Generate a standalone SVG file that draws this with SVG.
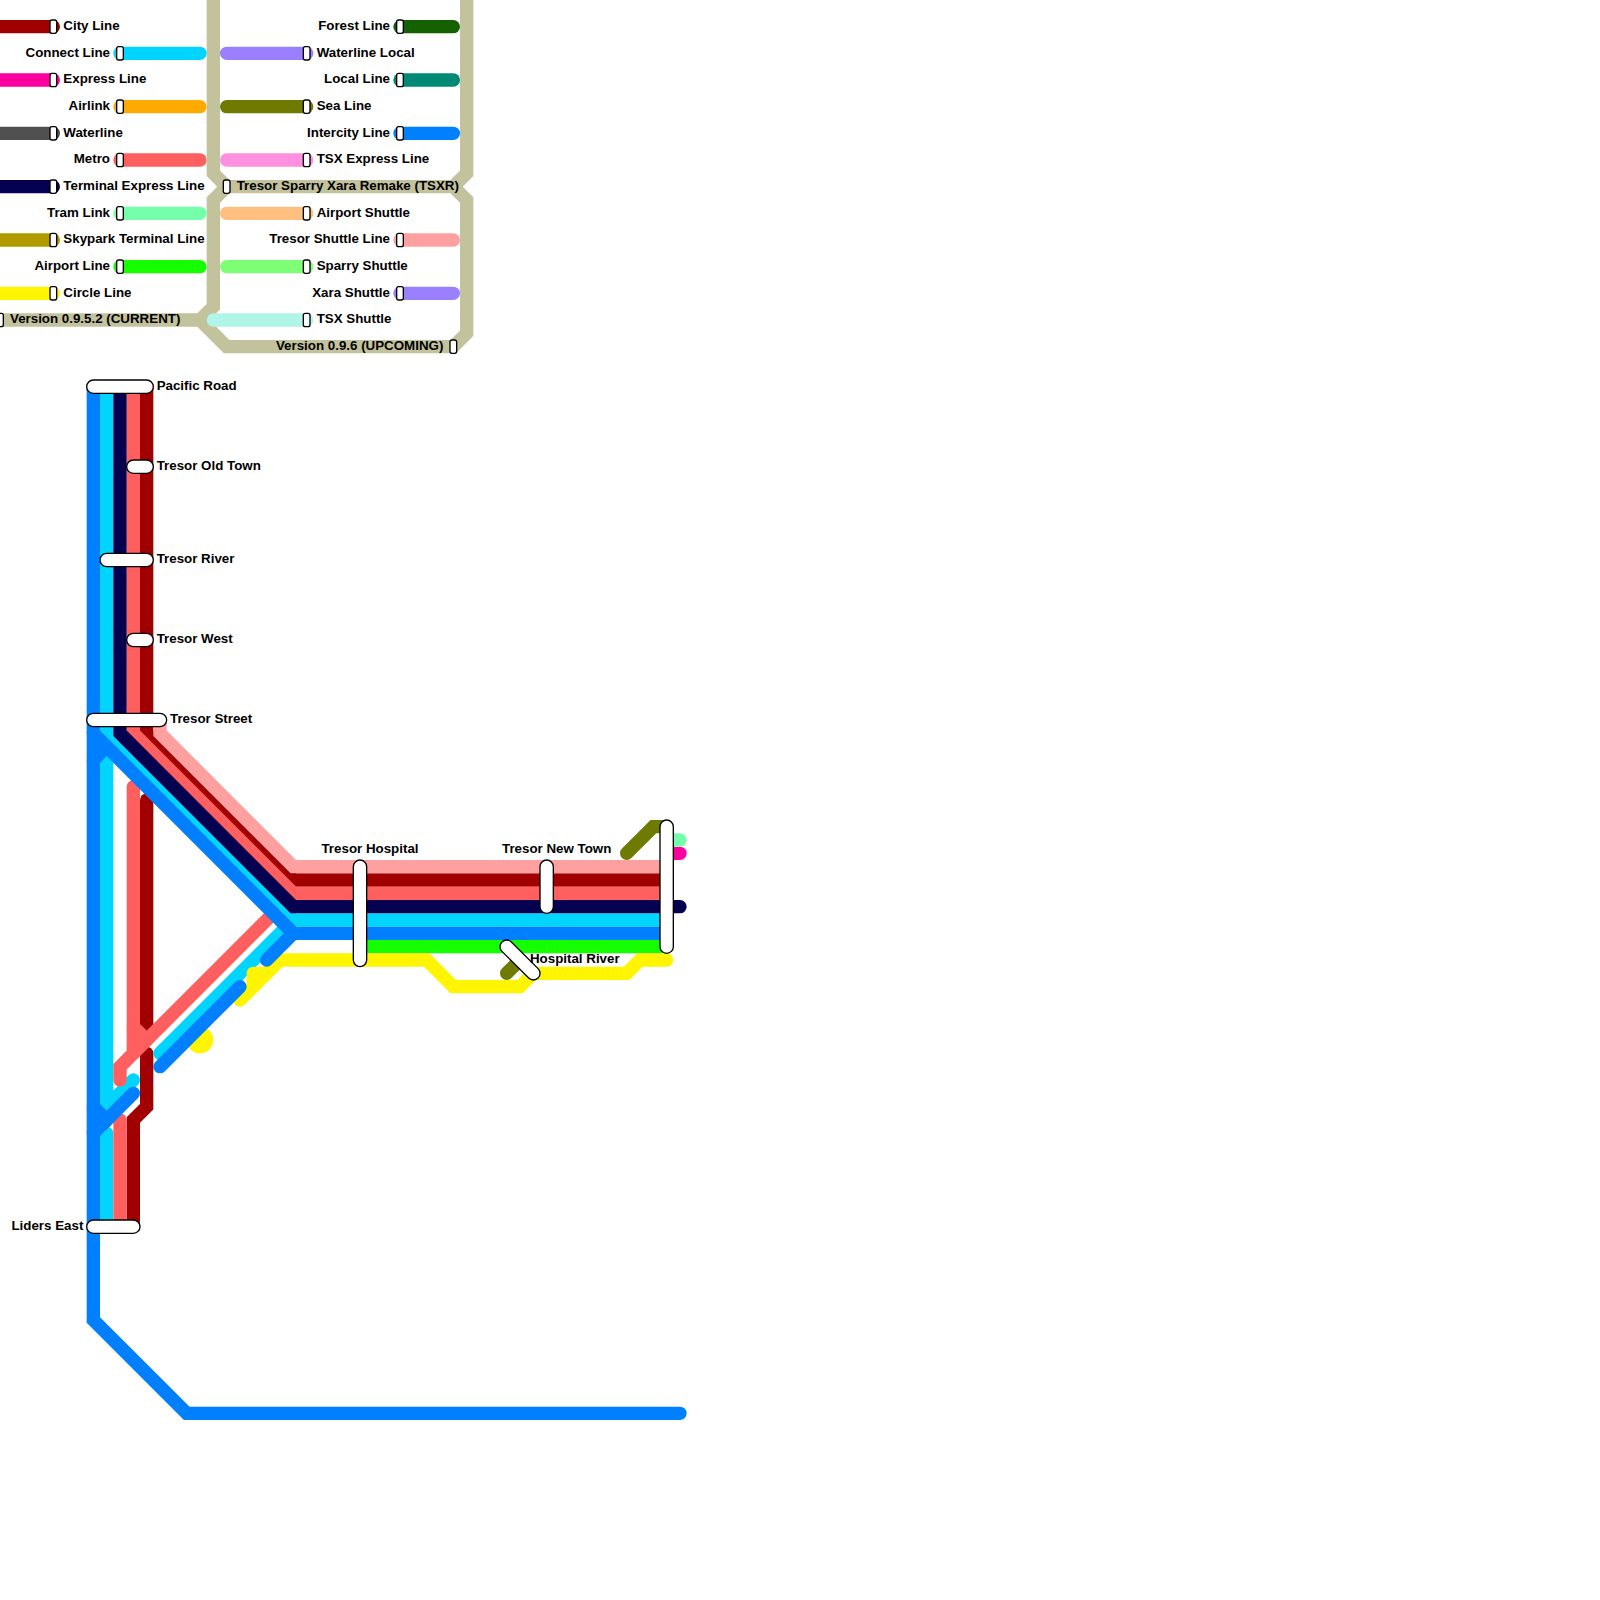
<svg xmlns="http://www.w3.org/2000/svg" width="1600" height="1600" viewBox="0 0 1600 1600">
<style>
.l{fill:none;stroke-width:13.333;stroke-linecap:round;stroke-linejoin:miter;stroke-miterlimit:10}
.s{fill:#fff;stroke:#000;stroke-width:1.33}
text{font-family:"Liberation Sans",Arial,sans-serif;font-weight:700;font-size:10px;fill:#000}
.e{text-anchor:end}
.m{text-anchor:middle}
.city{stroke:#a00000}.connect{stroke:#00d4ff}.express{stroke:#ff00a0}.airlink{stroke:#ffaa00}.waterline{stroke:#505050}.metro{stroke:#ff5f5f}.terminal{stroke:#050050}.tram{stroke:#75ffaa}.skypark{stroke:#b09a00}.airport{stroke:#15ff00}.circle{stroke:#fff500}.forest{stroke:#156000}.wllocal{stroke:#9a80ff}.local{stroke:#008a75}.sea{stroke:#6f7a00}.intercity{stroke:#0080ff}.tsxexp{stroke:#ff8fe0}.aptshut{stroke:#ffbf80}.trshut{stroke:#ffa0a0}.sparry{stroke:#7fff75}.xara{stroke:#9a80ff}.tsxshut{stroke:#b0f5e8}.ver{stroke:#c2c29c}
</style>
<rect width="1600" height="1600" fill="#fff"/>
<g id="connectors">
<path class="l ver" d="M-10 320H200L213.33 306.67V200L226.67 186.67H453.33L466.67 200V333.33L453.33 346.67H226.67L200 320"/>
<path class="l ver" d="M213.33 -10V173.33L226.67 186.67M466.67 -10V173.33L453.33 186.67"/>
<path class="l city" d="M-10 26.67H53.33"/>
<path class="l connect" d="M120 53.33H200"/>
<path class="l express" d="M-10 80H53.33"/>
<path class="l airlink" d="M120 106.67H200"/>
<path class="l waterline" d="M-10 133.33H53.33"/>
<path class="l metro" d="M120 160H200"/>
<path class="l terminal" d="M-10 186.67H53.33"/>
<path class="l tram" d="M120 213.33H200"/>
<path class="l skypark" d="M-10 240H53.33"/>
<path class="l airport" d="M120 266.67H200"/>
<path class="l circle" d="M-10 293.33H53.33"/>
<path class="l forest" d="M400 26.67H453.33"/>
<path class="l wllocal" d="M226.67 53.33H306.67"/>
<path class="l local" d="M400 80H453.33"/>
<path class="l sea" d="M226.67 106.67H306.67"/>
<path class="l intercity" d="M400 133.33H453.33"/>
<path class="l tsxexp" d="M226.67 160H306.67"/>
<path class="l aptshut" d="M226.67 213.33H306.67"/>
<path class="l trshut" d="M400 240H453.33"/>
<path class="l sparry" d="M226.67 266.67H306.67"/>
<path class="l xara" d="M400 293.33H453.33"/>
<path class="l tsxshut" d="M213.33 320H306.67"/>

<path class="l city" d="M146.67 386.67V733.33L293.33 880H666.67"/>
<path class="l city" d="M146.67 800V1033.33"/>
<path class="l city" d="M146.67 1053.33V1106.67L133.33 1120V1226.67"/>
<path class="l connect" d="M106.67 386.67V733.33L293.33 920H666.67"/>
<path class="l connect" d="M106.67 733.33V1106.67L133.33 1080"/>
<path class="l connect" d="M106.67 1133.33V1226.67"/>
<path class="l connect" d="M160 1053.33L293.33 920"/>
<path class="l express" d="M666.67 853.33H680"/>
<path class="l metro" d="M133.33 386.67V733.33L293.33 893.33H666.67"/>
<path class="l metro" d="M133.33 786.67V1053.33"/>
<path class="l metro" d="M133.33 1026.67L146.67 1040"/>
<path class="l metro" d="M120 1080V1066.67L273.33 913.33"/>
<path class="l metro" d="M120 1120V1226.67"/>
<path class="l terminal" d="M120 386.67V733.33L293.33 906.67H680"/>
<path class="l tram" d="M666.67 840H680"/>
<path class="l airport" d="M367 946.67H666.67"/>
<path class="l circle" d="M666.67 960H640L626.67 973.33H533.33L520 986.67H453.33L426.67 960H280L240 1000"/>
<path class="l circle" style="stroke-linejoin:round" d="M253.33 986.67V973.33H267"/>
<circle cx="200" cy="1040" r="13.33" fill="#fff500"/>
<path class="l sea" d="M626.67 853.33L653.33 826.67H666.67"/>
<path class="l sea" d="M506.67 973.33L520 960"/>
<path class="l intercity" d="M93.33 386.67V1320L186.67 1413.33H680"/>
<path class="l intercity" d="M93.33 733.33L293.33 933.33H666.67"/>
<path class="l intercity" d="M93.33 760L106.67 746.67"/>
<path class="l intercity" d="M93.33 1106.67L106.67 1120L133.33 1093.33"/>
<path class="l intercity" d="M106.67 1120L93.33 1133.33"/>
<path class="l intercity" d="M160 1066.67L240 986.67"/>
<path class="l intercity" d="M266.67 960L293.33 933.33"/>
<path class="l trshut" d="M160 720V733.33L293.33 866.67H666.67"/>
</g>
<g id="legend-markers">
<rect class="s" x="50" y="20" width="6.67" height="13.33" rx="2"/>
<rect class="s" x="116.67" y="46.67" width="6.67" height="13.33" rx="2"/>
<rect class="s" x="50" y="73.33" width="6.67" height="13.33" rx="2"/>
<rect class="s" x="116.67" y="100" width="6.67" height="13.33" rx="2"/>
<rect class="s" x="50" y="126.67" width="6.67" height="13.33" rx="2"/>
<rect class="s" x="116.67" y="153.33" width="6.67" height="13.33" rx="2"/>
<rect class="s" x="50" y="180" width="6.67" height="13.33" rx="2"/>
<rect class="s" x="116.67" y="206.67" width="6.67" height="13.33" rx="2"/>
<rect class="s" x="50" y="233.33" width="6.67" height="13.33" rx="2"/>
<rect class="s" x="116.67" y="260" width="6.67" height="13.33" rx="2"/>
<rect class="s" x="50" y="286.67" width="6.67" height="13.33" rx="2"/>
<rect class="s" x="-3.33" y="313.33" width="6.67" height="13.33" rx="2"/>
<rect class="s" x="396.67" y="20" width="6.67" height="13.33" rx="2"/>
<rect class="s" x="303.33" y="46.67" width="6.67" height="13.33" rx="2"/>
<rect class="s" x="396.67" y="73.33" width="6.67" height="13.33" rx="2"/>
<rect class="s" x="303.33" y="100" width="6.67" height="13.33" rx="2"/>
<rect class="s" x="396.67" y="126.67" width="6.67" height="13.33" rx="2"/>
<rect class="s" x="303.33" y="153.33" width="6.67" height="13.33" rx="2"/>
<rect class="s" x="223.33" y="180" width="6.67" height="13.33" rx="2"/>
<rect class="s" x="303.33" y="206.67" width="6.67" height="13.33" rx="2"/>
<rect class="s" x="396.67" y="233.33" width="6.67" height="13.33" rx="2"/>
<rect class="s" x="303.33" y="260" width="6.67" height="13.33" rx="2"/>
<rect class="s" x="396.67" y="286.67" width="6.67" height="13.33" rx="2"/>
<rect class="s" x="303.33" y="313.33" width="6.67" height="13.33" rx="2"/>
<rect class="s" x="450" y="340" width="6.67" height="13.33" rx="2"/>
</g>
<g id="legend-labels" transform="scale(1.33333)">
<text x="47.5" y="22.5">City Line</text>
<text class="e" x="82.5" y="42.5">Connect Line</text>
<text x="47.5" y="62.5">Express Line</text>
<text class="e" x="82.5" y="82.5">Airlink</text>
<text x="47.5" y="102.5">Waterline</text>
<text class="e" x="82.5" y="122.5">Metro</text>
<text x="47.5" y="142.5">Terminal Express Line</text>
<text class="e" x="82.5" y="162.5">Tram Link</text>
<text x="47.5" y="182.5">Skypark Terminal Line</text>
<text class="e" x="82.5" y="202.5">Airport Line</text>
<text x="47.5" y="222.5">Circle Line</text>
<text x="7.5" y="242.5">Version 0.9.5.2 (CURRENT)</text>
<text class="e" x="292.5" y="22.5">Forest Line</text>
<text x="237.5" y="42.5">Waterline Local</text>
<text class="e" x="292.5" y="62.5">Local Line</text>
<text x="237.5" y="82.5">Sea Line</text>
<text class="e" x="292.5" y="102.5">Intercity Line</text>
<text x="237.5" y="122.5">TSX Express Line</text>
<text x="177.5" y="142.5">Tresor Sparry Xara Remake (TSXR)</text>
<text x="237.5" y="162.5">Airport Shuttle</text>
<text class="e" x="292.5" y="182.5">Tresor Shuttle Line</text>
<text x="237.5" y="202.5">Sparry Shuttle</text>
<text class="e" x="292.5" y="222.5">Xara Shuttle</text>
<text x="237.5" y="242.5">TSX Shuttle</text>
<text class="e" x="332.5" y="262.5">Version 0.9.6 (UPCOMING)</text>
</g>
<g id="station-pacific-road"><rect class="s" x="86.67" y="380" width="66.67" height="13.33" rx="6.67"/><text transform="scale(1.33333)" x="117.5" y="292.5">Pacific Road</text></g>
<g id="station-tresor-old-town"><rect class="s" x="126.67" y="460" width="26.67" height="13.33" rx="6.67"/><text transform="scale(1.33333)" x="117.5" y="352.5">Tresor Old Town</text></g>
<g id="station-tresor-river"><rect class="s" x="100" y="553.33" width="53.33" height="13.33" rx="6.67"/><text transform="scale(1.33333)" x="117.5" y="422.5">Tresor River</text></g>
<g id="station-tresor-west"><rect class="s" x="126.67" y="633.33" width="26.67" height="13.33" rx="6.67"/><text transform="scale(1.33333)" x="117.5" y="482.5">Tresor West</text></g>
<g id="station-tresor-street"><rect class="s" x="86.67" y="713.33" width="80" height="13.33" rx="6.67"/><text transform="scale(1.33333)" x="127.5" y="542.5">Tresor Street</text></g>
<g id="station-liders-east"><rect class="s" x="86.67" y="1220" width="53.33" height="13.33" rx="6.67"/><text class="e" transform="scale(1.33333)" x="62.5" y="922.5">Liders East</text></g>
<g id="station-tresor-hospital"><rect class="s" x="353.33" y="860" width="13.33" height="106.67" rx="6.67"/><text class="m" transform="scale(1.33333)" x="277.5" y="640">Tresor Hospital</text></g>
<g id="station-tresor-new-town"><rect class="s" x="540" y="860" width="13.33" height="53.33" rx="6.67"/><text class="m" transform="scale(1.33333)" x="417.5" y="640">Tresor New Town</text></g>
<g id="station-hospital-river"><rect class="s" x="-6.67" y="-6.67" width="51.1" height="13.33" rx="6.67" transform="translate(506.67 946.67) rotate(45)"/><text transform="scale(1.33333)" x="397.5" y="722.5">Hospital River</text></g>
<g id="station-terminal"><rect class="s" x="660" y="820" width="13.33" height="133.33" rx="6.67"/></g>
</svg>
